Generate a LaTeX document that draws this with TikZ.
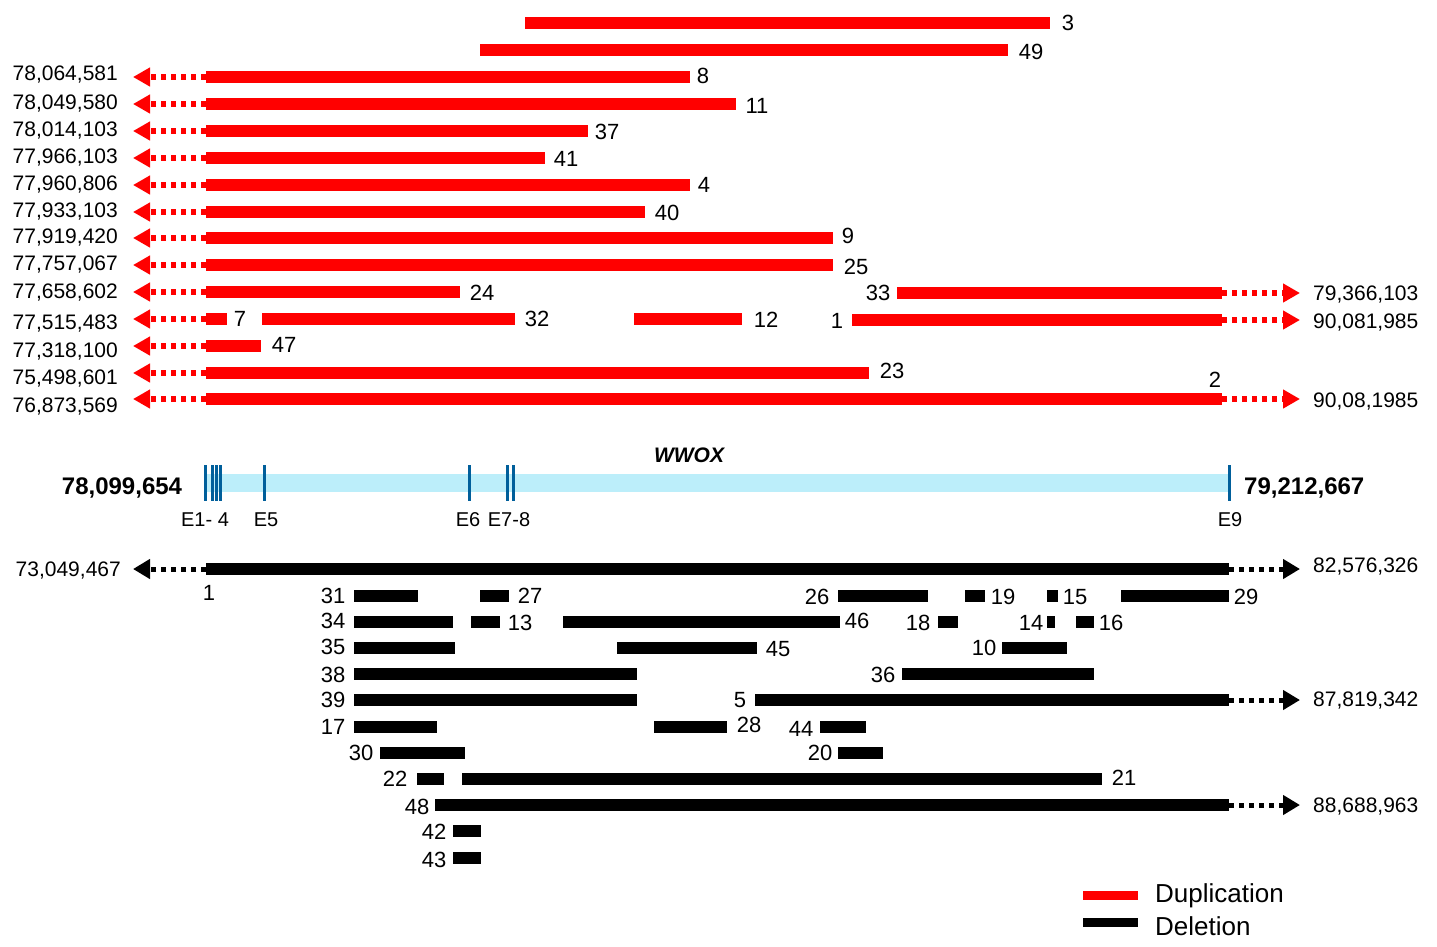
\documentclass[tikz,border=0pt]{standalone}
\usepackage{fontspec}
\setmainfont{Liberation Sans}
\usetikzlibrary{arrows.meta}
\definecolor{dupred}{RGB}{255,0,0}
\definecolor{genebl}{RGB}{188,238,250}
\definecolor{exonbl}{RGB}{0,95,155}
\begin{document}
\begin{tikzpicture}[x=1pt,y=-1pt,
 dup/.style={draw=dupred, line width=11.5pt},
 del/.style={draw=black, line width=11.5pt},
 dupdot/.style={draw=dupred, line width=6pt, dash pattern=on 5pt off 5pt, -{Triangle[length=17pt,width=18pt]}},
 deldot/.style={draw=black, line width=5pt, dash pattern=on 5pt off 5pt, -{Triangle[length=17pt,width=19pt]}},
 num/.style={inner sep=0pt, text height=15.7pt, text depth=0pt, font=\fontsize{22}{24}\selectfont},
 coordlab/.style={inner sep=0pt, text height=15pt, text depth=0pt, font=\fontsize{21}{23}\selectfont},
 genelab/.style={inner sep=0pt, text height=17.2pt, text depth=0pt, font=\fontsize{24}{26}\selectfont\bfseries},
 exlab/.style={inner sep=0pt, text height=14.3pt, text depth=0pt, font=\fontsize{20}{22}\selectfont},
 leglab/.style={inner sep=0pt, anchor=west, font=\fontsize{26}{28}\selectfont},
 genebar/.style={draw=genebl, line width=18pt},
 exon/.style={draw=exonbl, line width=3pt}]
\useasboundingbox (0,0) rectangle (1437,946);
\fill[white] (0,0) rectangle (1437,946);

% ---------------- duplications ----------------
\foreach \nm/\a/\b/\y in {d3/525/1050/23, d49/480/1008/50, d8/206/690/77, d11/206/736/104,
  d37/206/588/131, d41/206/545/158, d4/206/690/185, d40/206/645/212, d9/206/833/238,
  d25/206/833/265, d24/206/460/292, d33/897/1222/293, d7/206/227/319, d32/262/515/319,
  d12/634/742/319, d1/852/1222/320, d47/206/261/346, d23/206/869/373, d2/206/1222/399}
{\coordinate (\nm a) at (\a,\y); \coordinate (\nm b) at (\b,\y); \draw[dup] (\nm a) -- (\nm b);}

\foreach \nm/\t/\y/\ly in {d8/{78,064,581}/77/73, d11/{78,049,580}/104/102, d37/{78,014,103}/131/129,
  d41/{77,966,103}/158/156, d4/{77,960,806}/185/183, d40/{77,933,103}/212/210, d9/{77,919,420}/238/236,
  d25/{77,757,067}/265/263, d24/{77,658,602}/292/291, d7/{77,515,483}/319/322, d47/{77,318,100}/346/350,
  d23/{75,498,601}/373/377, d2/{76,873,569}/399/405}
{\coordinate (\nm t) at (133,\y); \draw[dupdot] (\nm a) -- (\nm t);
 \node[coordlab, anchor=east] (\nm L) at (118,\ly) {\t};}

\foreach \nm/\t/\y/\ly in {d33/{79,366,103}/293/293, d1/{90,081,985}/320/321, d2/{90,08,1985}/399/400}
{\coordinate (\nm r) at (1300,\y); \draw[dupdot] (\nm b) -- (\nm r);
 \node[coordlab, anchor=west] (\nm R) at (1313,\ly) {\t};}

\foreach \nm/\t/\x/\y in {d3/3/1068/23, d49/49/1031/52, d8/8/703/76, d11/11/757/106, d37/37/607/132,
  d41/41/566/159, d4/4/704/185, d40/40/667/213, d9/9/848/236, d25/25/856/267, d24/24/482/293,
  d33/33/878/293, d7/7/240/319, d32/32/537/319, d12/12/766/320, d1/1/837/321, d47/47/284/345,
  d23/23/892/371, d2/2/1215/380}
{\node[num] (\nm N) at (\x,\y) {\t};}

% ---------------- gene ----------------
\coordinate (gs) at (205,483);
\coordinate (ge) at (1229,483);
\draw[genebar] (gs) -- (ge);
\foreach \nm/\x in {e1/205, e2/212, e3/216, e4/220, e5/264, e6/469, e7/507, e8/513, e9/1229}
{\coordinate (\nm t) at (\x,465); \coordinate (\nm b) at (\x,501); \draw[exon] (\nm t) -- (\nm b);}
\node[genelab] (gL) at (122,486) {78,099,654};
\node[genelab, anchor=west] (gR) at (1244,486) {79,212,667};
\node[inner sep=0pt, font=\fontsize{21}{23}\selectfont\bfseries\itshape] (wwox) at (689,455) {WWOX};
\node[exlab] (x14) at (205,519) {E1- 4};
\node[exlab] (x5) at (266,519) {E5};
\node[exlab] (x6) at (468,519) {E6};
\node[exlab] (x78) at (509,519) {E7-8};
\node[exlab] (x9) at (1230,519) {E9};

% ---------------- deletions ----------------
\foreach \nm/\a/\b/\y in {k1/206/1229/569, k31/354/418/596, k27/480/509/596, k26/838/928/596,
  k19/965/985/596, k15/1047/1058/596, k29/1121/1229/596, k34/354/453/622, k13/471/500/622,
  k46/563/840/622, k18/938/958/622, k14/1047/1055/622, k16/1076/1094/622, k35/354/455/648,
  k45/617/757/648, k10/1002/1067/648, k38/354/637/674, k36/902/1094/674, k39/354/637/700,
  k5/755/1229/700, k17/354/437/727, k28/654/727/727, k44/820/866/727, k30/380/465/753,
  k20/838/883/753, k22/417/444/779, k21/462/1102/779, k48/435/1229/805, k42/453/481/831,
  k43/453/481/858}
{\coordinate (\nm a) at (\a,\y); \coordinate (\nm b) at (\b,\y); \draw[del] (\nm a) -- (\nm b);}

\coordinate (k1t) at (133,569);
\draw[deldot] (k1a) -- (k1t);
\node[coordlab, anchor=east] (k1L) at (121,569) {73,049,467};
\foreach \nm/\t/\y/\ly in {k1/{82,576,326}/569/565, k5/{87,819,342}/700/699, k48/{88,688,963}/805/805}
{\coordinate (\nm r) at (1300,\y); \draw[deldot] (\nm b) -- (\nm r);
 \node[coordlab, anchor=west] (\nm R) at (1313,\ly) {\t};}

\foreach \nm/\t/\x/\y in {k1/1/209/593, k31/31/333/596, k27/27/530/596, k26/26/817/597,
  k19/19/1003/597, k15/15/1075/597, k29/29/1246/597, k34/34/333/621, k13/13/520/623,
  k46/46/857/621, k18/18/918/623, k14/14/1031/623, k16/16/1111/623, k35/35/333/647,
  k45/45/778/649, k10/10/984/648, k38/38/333/675, k36/36/883/675, k39/39/333/700,
  k5/5/740/700, k17/17/333/727, k28/28/749/725, k44/44/801/729, k30/30/361/753,
  k20/20/820/753, k22/22/395/779, k21/21/1124/778, k48/48/417/807, k42/42/434/832,
  k43/43/434/860}
{\node[num] (\nm N) at (\x,\y) {\t};}

% ---------------- legend ----------------
\coordinate (lr1) at (1083,895); \coordinate (lr2) at (1138,895);
\coordinate (lk1) at (1083,922); \coordinate (lk2) at (1138,922);
\draw[draw=dupred, line width=9pt] (lr1) -- (lr2);
\draw[draw=black, line width=9pt] (lk1) -- (lk2);
\node[leglab] (legD) at (1155,896) {Duplication};
\node[leglab] (legE) at (1155,926) {Deletion};
\end{tikzpicture}
\end{document}
